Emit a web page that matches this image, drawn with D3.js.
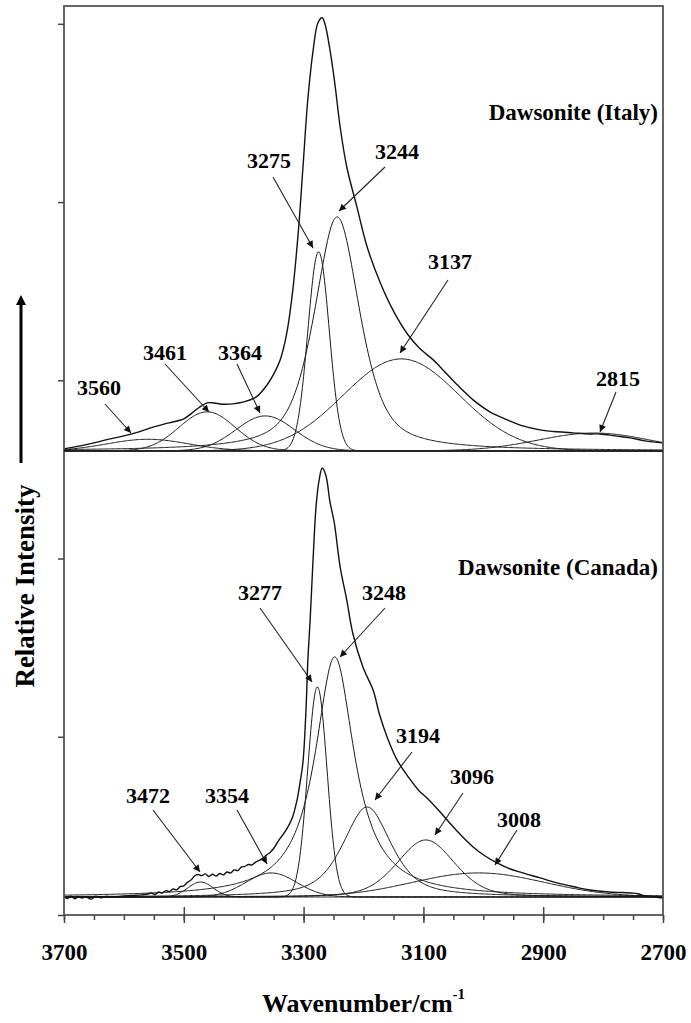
<!DOCTYPE html>
<html>
<head>
<meta charset="utf-8">
<script src="https://cdn.jsdelivr.net/npm/d3@7"></script>
<style>
  body { margin: 0; background: #fff; }
  svg { display: block; }
  text { font-family: "Liberation Serif", "Times New Roman", serif; font-weight: bold; fill: #000; }
</style>
</head>
<body>
<svg id="chart" width="691" height="1023"></svg>
<script>
// ---- axis ticks ----
const xMajorTicks = [3700, 3500, 3300, 3100, 2900, 2700];
const xMinorTicks = d3.range(3700, 2699, -50);
const yTicks = [0, 1, 2, 3, 4, 5];

// ---- Dawsonite (Italy): fitted component bands ----
const italyCenters = [3560, 3461, 3364, 3275, 3244, 3137, 2815];
const italyHeights = [0.065, 0.219, 0.196, 1.117, 1.313, 0.516, 0.100];
const italyFwhm    = [160, 110, 115, 42, 90, 228, 220];
const italyLorentz = [0, 0, 0, 0, 0.6, 0, 0];

// ---- Dawsonite (Italy): measured spectrum ----
const italyWavenumber = [3700, 3673, 3650, 3623, 3600, 3575, 3550, 3525, 3500, 3486, 3473, 3461, 3450, 3436,
  3418, 3400, 3379, 3361, 3348, 3339, 3328, 3318, 3309, 3301, 3293, 3284, 3276, 3269, 3264, 3256, 3248,
  3239, 3228, 3211, 3194, 3172, 3151, 3127, 3106, 3084, 3072, 3044, 3017, 2989, 2960, 2934, 2905, 2877,
  2850, 2822, 2805, 2780, 2755, 2730, 2700];
const italyIntensity = [0.011, 0.028, 0.045, 0.067, 0.084, 0.107, 0.135, 0.157, 0.180, 0.213, 0.247, 0.269,
  0.269, 0.262, 0.264, 0.275, 0.303, 0.370, 0.443, 0.511, 0.662, 0.903, 1.223, 1.594, 1.970, 2.250, 2.402,
  2.430, 2.391, 2.250, 2.065, 1.818, 1.594, 1.369, 1.145, 0.943, 0.791, 0.657, 0.574, 0.512, 0.471, 0.372,
  0.286, 0.219, 0.174, 0.140, 0.118, 0.107, 0.101, 0.095, 0.095, 0.084, 0.073, 0.056, 0.045];

// ---- Dawsonite (Canada): fitted component bands ----
const canadaCenters = [3472, 3354, 3277, 3248, 3194, 3096, 3008];
const canadaHeights = [0.084, 0.135, 1.178, 1.347, 0.505, 0.320, 0.135];
const canadaFwhm    = [50, 100, 38, 80, 95, 113, 260];
const canadaLorentz = [0, 0, 0, 1, 0.6, 0.3, 0];

// ---- Dawsonite (Canada): measured spectrum ----
const canadaWavenumber = [3700, 3694, 3688, 3682, 3676, 3670, 3664, 3655, 3647, 3638, 3630, 3615, 3600, 3585,
  3570, 3560, 3554, 3548, 3542, 3536, 3530, 3524, 3518, 3512, 3506, 3500, 3494, 3488, 3482, 3476, 3470,
  3464, 3458, 3452, 3446, 3440, 3434, 3428, 3422, 3416, 3410, 3404, 3398, 3392, 3386, 3380, 3374, 3368,
  3362, 3356, 3350, 3341, 3329, 3319, 3311, 3306, 3301, 3296, 3293, 3289, 3284, 3279, 3274, 3269, 3263,
  3256, 3249, 3239, 3228, 3218, 3201, 3184, 3173, 3160, 3144, 3124, 3107, 3094, 3072, 3056, 3036, 3017,
  2997, 2977, 2955, 2934, 2905, 2877, 2847, 2822, 2789, 2750, 2742, 2730, 2713, 2700];
const canadaIntensity = [0.000, -0.008, 0.004, -0.010, 0.003, -0.006, 0.002, -0.012, 0.004, -0.004, 0.003,
  0.000, 0.006, 0.008, 0.012, 0.017, 0.022, 0.014, 0.028, 0.022, 0.036, 0.030, 0.045, 0.040, 0.058, 0.062,
  0.082, 0.095, 0.118, 0.126, 0.120, 0.130, 0.115, 0.128, 0.117, 0.132, 0.124, 0.140, 0.135, 0.152, 0.148,
  0.168, 0.172, 0.182, 0.180, 0.196, 0.205, 0.218, 0.235, 0.250, 0.272, 0.320, 0.376, 0.443, 0.544, 0.640,
  0.758, 1.050, 1.320, 1.560, 1.907, 2.200, 2.340, 2.407, 2.368, 2.217, 2.104, 1.852, 1.667, 1.481, 1.290,
  1.161, 1.021, 0.892, 0.769, 0.668, 0.595, 0.556, 0.477, 0.415, 0.342, 0.281, 0.230, 0.191, 0.157, 0.135,
  0.107, 0.079, 0.056, 0.039, 0.028, 0.022, 0.018, 0.006, 0.000, -0.006];

// ---- peak labels: label x, label baseline, arrow start x, y, arrow tip x, y ----
const italyLabelLayout = [
  [99, 395, 105, 404, 131, 433],
  [165, 360, 165, 364, 209, 412],
  [240, 360, 237, 364, 260, 413],
  [269, 168, 273, 177, 313, 248],
  [397, 159, 385, 167, 339, 211],
  [450, 269, 448, 280, 400, 353],
  [618, 386, 616, 392, 600, 432]
];
const canadaLabelLayout = [
  [148, 803, 153, 810, 200, 872],
  [227, 803, 237, 810, 267, 864],
  [260, 600, 260, 608, 312, 682],
  [384, 600, 385, 608, 340, 657],
  [418, 743, 412, 752, 375, 800],
  [472, 784, 463, 793, 435, 835],
  [519, 827, 517, 830, 495, 865]
];

// ---- geometry ----
const plot = { left: 64, right: 663, top: 6, bottom: 915 };
const italyBase = 2.604;   // vertical offset of the upper trace
const canadaBase = 0.101;  // vertical offset of the lower trace

const svg = d3.select("#chart");
const x = d3.scaleLinear().domain([3700, 2700]).range([plot.left, plot.right]);
const y = d3.scaleLinear().domain([0, 5.1]).range([plot.bottom, plot.top]);

const defs = svg.append("defs");
defs.append("clipPath").attr("id", "plotClip")
  .append("rect").attr("x", plot.left).attr("y", plot.top)
  .attr("width", plot.right - plot.left).attr("height", plot.bottom - plot.top);

defs.append("marker")
  .attr("id", "arrowHead").attr("viewBox", "0 0 10 10")
  .attr("refX", 10).attr("refY", 5)
  .attr("markerWidth", 10).attr("markerHeight", 7)
  .attr("markerUnits", "userSpaceOnUse").attr("orient", "auto")
  .append("path").attr("d", "M0,0 L10,5 L0,10 Z").attr("fill", "#111");

defs.append("marker")
  .attr("id", "bigArrow").attr("viewBox", "0 0 10 10")
  .attr("refX", 5).attr("refY", 5)
  .attr("markerWidth", 10).attr("markerHeight", 14)
  .attr("markerUnits", "userSpaceOnUse").attr("orient", "auto")
  .append("path").attr("d", "M0,0 L10,5 L0,10 Z").attr("fill", "#000");

// pseudo-Voigt band profile sampled across the axis range
function bandProfile(c, h, f, eta) {
  const grid = d3.range(3700, 2699, -2);
  return grid.map(w => {
    const d = (w - c) / f;
    const g = Math.exp(-4 * Math.LN2 * d * d);
    const l = 1 / (1 + 4 * d * d);
    return [w, h * (eta * l + (1 - eta) * g)];
  });
}

const curves = svg.append("g").attr("clip-path", "url(#plotClip)");

function drawPanel(centers, heights, fwhm, lorentz, wn, inten, base) {
  const line = d3.line().x(d => x(d[0])).y(d => y(d[1] + base)).curve(d3.curveMonotoneX);
  centers.forEach((c, i) => {
    curves.append("path")
      .attr("d", line(bandProfile(c, heights[i], fwhm[i], lorentz[i])))
      .attr("fill", "none").attr("stroke", "#1a1a1a").attr("stroke-width", 1);
  });
  const spec = wn.map((w, i) => [w, inten[i]]);
  curves.append("path")
    .attr("d", d3.line().x(d => x(d[0])).y(d => y(d[1] + base)).curve(d3.curveCatmullRom.alpha(0.5))(spec))
    .attr("fill", "none").attr("stroke", "#111").attr("stroke-width", 1.4);
}

drawPanel(italyCenters, italyHeights, italyFwhm, italyLorentz, italyWavenumber, italyIntensity, italyBase);
drawPanel(canadaCenters, canadaHeights, canadaFwhm, canadaLorentz, canadaWavenumber, canadaIntensity, canadaBase);

// frame and panel divider
svg.append("rect")
  .attr("x", plot.left).attr("y", plot.top)
  .attr("width", plot.right - plot.left).attr("height", plot.bottom - plot.top)
  .attr("fill", "none").attr("stroke", "#555").attr("stroke-width", 1.8);
svg.append("line")
  .attr("x1", plot.left).attr("x2", plot.right)
  .attr("y1", y(italyBase)).attr("y2", y(italyBase))
  .attr("stroke", "#222").attr("stroke-width", 1.6);

// y axis (unlabelled ticks)
const yAxis = svg.append("g").attr("transform", `translate(${plot.left},0)`)
  .call(d3.axisLeft(y).tickValues(yTicks).tickSize(6).tickFormat(""));
yAxis.select(".domain").remove();
yAxis.selectAll(".tick line").attr("stroke", "#444").attr("stroke-width", 1.5);

// x axis: minor ticks below, major ticks crossing the axis
const xAxis = svg.append("g").attr("transform", `translate(0,${plot.bottom})`);
xAxis.call(d3.axisBottom(x).tickValues(xMinorTicks).tickSize(5).tickFormat(""));
xAxis.select(".domain").remove();
xAxis.selectAll(".tick line").attr("stroke", "#444").attr("stroke-width", 1.5);
const xMajor = svg.append("g").attr("transform", `translate(0,${plot.bottom})`)
  .call(d3.axisBottom(x).tickValues(xMajorTicks).tickSize(8).tickFormat(d3.format("d")));
xMajor.select(".domain").remove();
xMajor.selectAll(".tick line").attr("y1", d => (d === 3700 || d === 2700) ? 0 : -8)
  .attr("stroke", "#444").attr("stroke-width", 1.5);
xMajor.selectAll(".tick text")
  .attr("font-family", "Liberation Serif, Times New Roman, serif")
  .attr("font-weight", "bold").attr("font-size", 23).attr("fill", "#000")
  .attr("dy", 0).attr("y", 45);

// axis titles
const xt = svg.append("text").attr("x", (plot.left + plot.right) / 2).attr("y", 1012)
  .attr("text-anchor", "middle").attr("font-size", 26);
xt.append("tspan").text("Wavenumber/cm");
xt.append("tspan").text("-1").attr("font-size", 15).attr("dy", -13);

svg.append("text")
  .attr("transform", "translate(34,586) rotate(-90)")
  .attr("text-anchor", "middle").attr("font-size", 27)
  .text("Relative Intensity");
svg.append("line")
  .attr("x1", 21).attr("x2", 21).attr("y1", 463).attr("y2", 300)
  .attr("stroke", "#000").attr("stroke-width", 3)
  .attr("marker-end", "url(#bigArrow)");

// panel names
svg.append("text").attr("x", 658).attr("y", 120).attr("text-anchor", "end")
  .attr("font-size", 23).text("Dawsonite (Italy)");
svg.append("text").attr("x", 658).attr("y", 575).attr("text-anchor", "end")
  .attr("font-size", 23).text("Dawsonite (Canada)");

// peak labels with arrows
function drawLabels(centers, layout) {
  const g = svg.append("g");
  centers.forEach((c, i) => {
    const [tx, ty, ax, ay, bx, by] = layout[i];
    g.append("text").attr("x", tx).attr("y", ty).attr("text-anchor", "middle")
      .attr("font-size", 22).text(c);
    g.append("line").attr("x1", ax).attr("y1", ay).attr("x2", bx).attr("y2", by)
      .attr("stroke", "#222").attr("stroke-width", 1.1)
      .attr("marker-end", "url(#arrowHead)");
  });
}
drawLabels(italyCenters, italyLabelLayout);
drawLabels(canadaCenters, canadaLabelLayout);
</script>
</body>
</html>
